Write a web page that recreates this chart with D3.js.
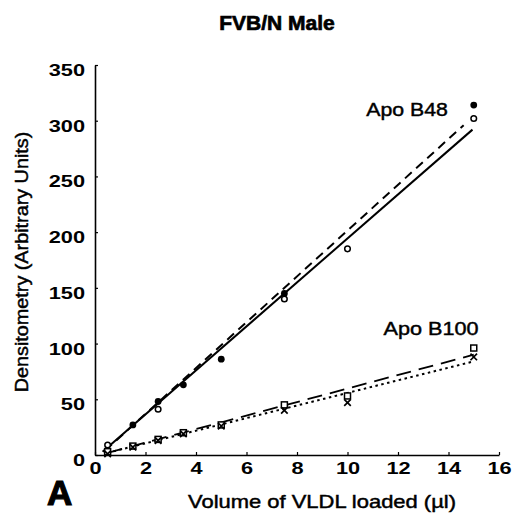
<!DOCTYPE html>
<html>
<head>
<meta charset="utf-8">
<script src="https://cdn.jsdelivr.net/npm/d3@7"></script>
<style>
  body { margin: 0; background: #fff; }
  svg { display: block; font-family: "Liberation Sans", Arial, sans-serif; }
</style>
</head>
<body>
<svg id="chart" width="514" height="519"></svg>
<script>
// values
const xTicks = [0, 2, 4, 6, 8, 10, 12, 14, 16];
const yTicks = [0, 50, 100, 150, 200, 250, 300, 350];

const b48FilledX = [0.5, 1.5, 2.5, 3.5, 5, 7.5, 15];
const b48FilledY = [3, 27, 48, 63, 86, 145, 314];
const b48OpenX = [0.5, 2.5, 7.5, 10, 15];
const b48OpenY = [9, 41, 140, 185, 302];

const b100SquareX = [0.5, 1.5, 2.5, 3.5, 5, 7.5, 10, 15];
const b100SquareY = [3, 8, 14, 20, 27, 45, 53, 96];
const b100CrossX = [0.5, 1.5, 2.5, 3.5, 5, 7.5, 10, 15];
const b100CrossY = [1, 7, 13, 19, 26, 40, 47, 88];

// regression lines (start / end)
const b48SolidFit = [[0.3, 3], [14.95, 292]];
const b48DashFit = [[0.4, 4], [14.6, 296]];
const b100DashFit = [[0.5, 2], [15, 90]];
const b100DotFit = [[0.5, 2], [15, 84]];

const svg = d3.select("#chart");

const x = d3.scaleLinear().domain([0, 16]).range([95, 499]);
const y = d3.scaleLinear().domain([0, 350]).range([455, 65]);

// axes
const xAxis = svg.append("g")
  .attr("transform", `translate(0, ${y(0)})`)
  .call(d3.axisBottom(x).tickValues(xTicks).tickSizeInner(-3).tickSizeOuter(0).tickPadding(7));
const yAxis = svg.append("g")
  .attr("transform", `translate(${x(0)}, 0)`)
  .call(d3.axisLeft(y).tickValues(yTicks).tickSizeInner(-3).tickSizeOuter(0).tickPadding(9));

[xAxis, yAxis].forEach((g) => {
  g.select(".domain").attr("stroke", "#000").attr("stroke-width", 1.6);
  g.selectAll(".tick line").attr("stroke", "#000").attr("stroke-width", 1.2);
  g.selectAll(".tick text")
    .attr("fill", "#000")
    .style("font-size", "17px")
    .style("font-weight", "bold");
});
// the print is wider than Helvetica, stretch the labels a bit
xAxis.selectAll(".tick text").attr("transform", "scale(1.28,1)");
yAxis.selectAll(".tick text")
  .attr("x", 0)
  .attr("transform", "translate(-10,5) scale(1.28,1)");

// fit lines
const line = d3.line().x((d) => x(d[0])).y((d) => y(d[1]));
const fits = [
  {pts: b48SolidFit, dash: null, w: 2},
  {pts: b48DashFit, dash: "9,6", w: 2},
  {pts: b100DashFit, dash: "15,8", w: 1.8},
  {pts: b100DotFit, dash: "2.5,3.5", w: 2},
];
svg.selectAll(".fit")
  .data(fits)
  .join("path")
  .attr("class", "fit")
  .attr("d", (d) => line(d.pts))
  .attr("fill", "none")
  .attr("stroke", "#000")
  .attr("stroke-width", (d) => d.w)
  .attr("stroke-dasharray", (d) => d.dash);

// markers
svg.selectAll(".b48f")
  .data(d3.zip(b48FilledX, b48FilledY))
  .join("circle")
  .attr("cx", (d) => x(d[0]))
  .attr("cy", (d) => y(d[1]))
  .attr("r", 3.4)
  .attr("fill", "#000");

svg.selectAll(".b48o")
  .data(d3.zip(b48OpenX, b48OpenY))
  .join("circle")
  .attr("cx", (d) => x(d[0]))
  .attr("cy", (d) => y(d[1]))
  .attr("r", 2.8)
  .attr("fill", "#fff")
  .attr("stroke", "#000")
  .attr("stroke-width", 1.5);

svg.selectAll(".b100s")
  .data(d3.zip(b100SquareX, b100SquareY))
  .join("rect")
  .attr("x", (d) => x(d[0]) - 3)
  .attr("y", (d) => y(d[1]) - 3)
  .attr("width", 6)
  .attr("height", 6)
  .attr("fill", "#fff")
  .attr("stroke", "#000")
  .attr("stroke-width", 1.5);

const cross = d3.symbol().type(d3.symbolX).size(30);
svg.selectAll(".b100x")
  .data(d3.zip(b100CrossX, b100CrossY))
  .join("path")
  .attr("transform", (d) => `translate(${x(d[0])}, ${y(d[1])})`)
  .attr("d", cross)
  .attr("fill", "none")
  .attr("stroke", "#000")
  .attr("stroke-width", 1.7);

// labels
svg.append("text")
  .attr("x", 277).attr("y", 30)
  .attr("text-anchor", "middle")
  .attr("stroke", "#000").attr("stroke-width", 0.7)
  .style("font-size", "21px").style("font-weight", "bold")
  .text("FVB/N Male");

// regular text in the scan is a little heavier than Liberation regular
const medium = (sel) => sel.attr("stroke", "#000").attr("stroke-width", 0.45);

svg.append("text")
  .attr("transform", "translate(407, 116) scale(1.12,1)")
  .attr("text-anchor", "middle")
  .style("font-size", "19px")
  .call(medium)
  .text("Apo B48");

svg.append("text")
  .attr("transform", "translate(431, 335) scale(1.14,1)")
  .attr("text-anchor", "middle")
  .style("font-size", "19px")
  .call(medium)
  .text("Apo B100");

svg.append("text")
  .attr("transform", "translate(28, 262) rotate(-90) scale(1.1,1)")
  .attr("text-anchor", "middle")
  .style("font-size", "18px")
  .call(medium)
  .text("Densitometry (Arbitrary Units)");

svg.append("text")
  .attr("transform", "translate(322, 508) scale(1.22,1)")
  .attr("text-anchor", "middle")
  .style("font-size", "18px")
  .call(medium)
  .text("Volume of VLDL loaded (\u00b5l)");

svg.append("text")
  .attr("x", 47).attr("y", 505)
  .attr("stroke", "#000").attr("stroke-width", 1.2)
  .style("font-size", "35px").style("font-weight", "bold")
  .text("A");
</script>
</body>
</html>
